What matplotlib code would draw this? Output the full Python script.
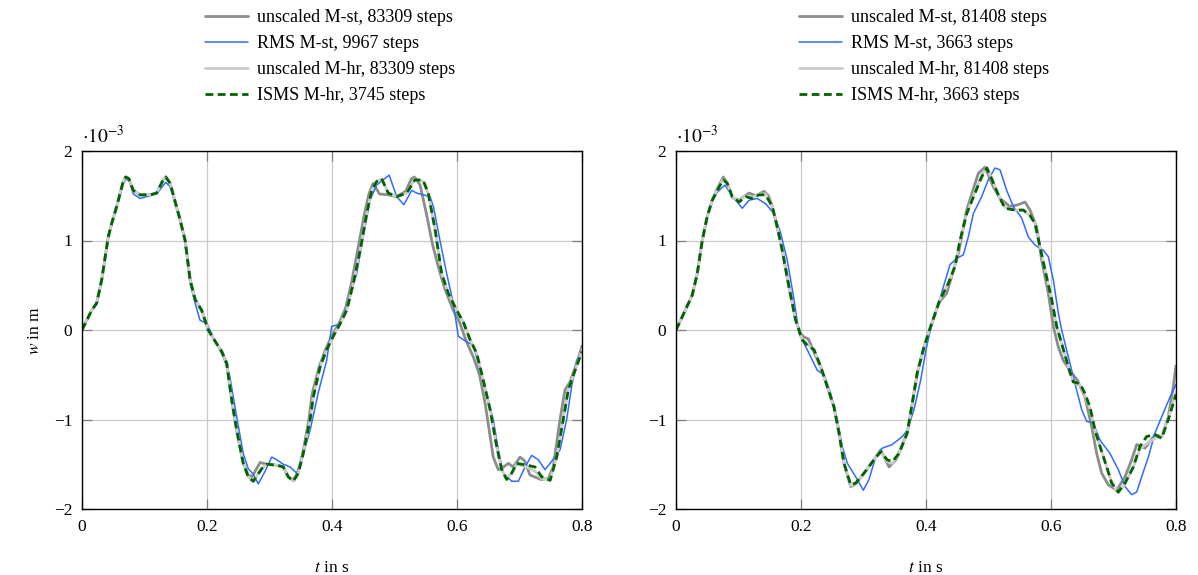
#!/usr/bin/env python3
from __future__ import annotations

import matplotlib

matplotlib.use("Agg")
import matplotlib.pyplot as plt

# values, w in units of 1e-3 m, t in s
LEFT_LABELS = [
    "unscaled M-st, 83309 steps",
    "RMS M-st, 9967 steps",
    "unscaled M-hr, 83309 steps",
    "ISMS M-hr, 3745 steps",
]
RIGHT_LABELS = [
    "unscaled M-st, 81408 steps",
    "RMS M-st, 3663 steps",
    "unscaled M-hr, 81408 steps",
    "ISMS M-hr, 3663 steps",
]

left_ust = [
    (0.0, 0.0), (0.0155, 0.22), (0.0235, 0.30), (0.0315, 0.56), (0.042, 1.04), (0.0475, 1.19),
    (0.0555, 1.38), (0.066, 1.66), (0.070, 1.71), (0.075, 1.69), (0.082, 1.56), (0.093, 1.51),
    (0.109, 1.51), (0.1195, 1.53), (0.130, 1.68), (0.134, 1.71), (0.141, 1.64), (0.157, 1.23),
    (0.165, 1.0), (0.173, 0.56), (0.181, 0.34), (0.1915, 0.22), (0.202, 0.0), (0.2125, -0.12),
    (0.2235, -0.24), (0.2315, -0.37), (0.2395, -0.78), (0.2475, -1.12), (0.258, -1.49), (0.266, -1.62),
    (0.272, -1.64), (0.285, -1.48), (0.2955, -1.50), (0.3115, -1.51), (0.322, -1.53), (0.330, -1.64),
    (0.338, -1.68), (0.346, -1.58), (0.354, -1.35), (0.363, -1.0), (0.368, -0.72), (0.379, -0.42),
    (0.3895, -0.22), (0.400, -0.06), (0.411, 0.07), (0.4215, 0.24), (0.431, 0.52), (0.441, 0.89),
    (0.452, 1.30), (0.459, 1.52), (0.466, 1.64), (0.476, 1.52), (0.490, 1.51), (0.503, 1.49),
    (0.518, 1.55), (0.527, 1.69), (0.532, 1.71), (0.541, 1.62), (0.551, 1.30), (0.561, 0.95),
    (0.570, 0.71), (0.580, 0.47), (0.594, 0.22), (0.604, 0.09), (0.614, -0.11), (0.626, -0.30),
    (0.636, -0.50), (0.645, -0.82), (0.658, -1.42), (0.666, -1.56), (0.671, -1.55), (0.682, -1.49),
    (0.690, -1.53), (0.7008, -1.42), (0.708, -1.46), (0.7168, -1.62), (0.734, -1.67), (0.746, -1.66),
    (0.754, -1.53), (0.7648, -1.0), (0.7728, -0.67), (0.7808, -0.58), (0.7915, -0.37), (0.80, -0.18),
]
left_rms = [
    (0.0, 0.0), (0.0155, 0.22), (0.0235, 0.30), (0.0315, 0.56), (0.042, 1.04), (0.0475, 1.19),
    (0.0555, 1.38), (0.066, 1.64), (0.071, 1.69), (0.076, 1.66), (0.082, 1.52), (0.093, 1.47),
    (0.109, 1.50), (0.1195, 1.52), (0.134, 1.65), (0.141, 1.60), (0.157, 1.23), (0.165, 0.98),
    (0.173, 0.52), (0.181, 0.30), (0.1888, 0.11), (0.200, 0.07), (0.210, -0.08), (0.226, -0.30),
    (0.236, -0.50), (0.2475, -0.97), (0.258, -1.38), (0.266, -1.55), (0.274, -1.61), (0.282, -1.72),
    (0.2928, -1.58), (0.3035, -1.42), (0.3115, -1.45), (0.322, -1.50), (0.3328, -1.53), (0.3435, -1.60),
    (0.3515, -1.45), (0.365, -1.12), (0.378, -0.70), (0.3915, -0.34), (0.3995, 0.04), (0.410, 0.06),
    (0.418, 0.15), (0.4288, 0.37), (0.4395, 0.63), (0.450, 1.04), (0.4608, 1.45), (0.4715, 1.62),
    (0.482, 1.68), (0.4915, 1.73), (0.5035, 1.49), (0.515, 1.40), (0.5275, 1.56), (0.5355, 1.53),
    (0.5568, 1.49), (0.5622, 1.38), (0.5728, 1.0), (0.5835, 0.63), (0.594, 0.30), (0.602, -0.07),
    (0.6128, -0.12), (0.626, -0.17), (0.637, -0.45), (0.6475, -0.71), (0.658, -1.0), (0.6662, -1.34),
    (0.674, -1.60), (0.6875, -1.69), (0.6982, -1.69), (0.7088, -1.53), (0.7195, -1.40), (0.730, -1.45),
    (0.7408, -1.56), (0.749, -1.49), (0.7648, -1.34), (0.7755, -1.0), (0.7835, -0.63), (0.7915, -0.34),
    (0.80, -0.24),
]
left_uhr = [
    (0.0, 0.0), (0.0155, 0.22), (0.0235, 0.30), (0.0315, 0.56), (0.042, 1.04), (0.0475, 1.19),
    (0.0555, 1.38), (0.066, 1.66), (0.070, 1.71), (0.075, 1.69), (0.082, 1.56), (0.093, 1.51),
    (0.109, 1.51), (0.1195, 1.53), (0.130, 1.68), (0.134, 1.71), (0.141, 1.64), (0.157, 1.23),
    (0.165, 1.0), (0.173, 0.56), (0.181, 0.34), (0.1915, 0.22), (0.202, 0.0), (0.2125, -0.12),
    (0.2235, -0.24), (0.2315, -0.37), (0.2395, -0.78), (0.2475, -1.12), (0.258, -1.49), (0.266, -1.64),
    (0.274, -1.69), (0.2875, -1.55), (0.2955, -1.50), (0.3115, -1.51), (0.322, -1.53), (0.330, -1.64),
    (0.338, -1.69), (0.346, -1.60), (0.354, -1.38), (0.365, -1.0), (0.370, -0.75), (0.381, -0.41),
    (0.3915, -0.22), (0.402, -0.07), (0.413, 0.07), (0.4235, 0.22), (0.434, 0.52), (0.445, 0.89),
    (0.4555, 1.30), (0.4635, 1.56), (0.4715, 1.66), (0.4795, 1.69), (0.490, 1.53), (0.5035, 1.49),
    (0.5195, 1.53), (0.533, 1.69), (0.546, 1.66), (0.554, 1.52), (0.565, 1.12), (0.5755, 0.63),
    (0.586, 0.41), (0.5995, 0.22), (0.610, 0.09), (0.621, -0.11), (0.6315, -0.26), (0.642, -0.56),
    (0.653, -0.89), (0.6635, -1.30), (0.6715, -1.56), (0.6795, -1.66), (0.6875, -1.60), (0.6955, -1.50),
    (0.7115, -1.53), (0.7248, -1.58), (0.7355, -1.66), (0.749, -1.67), (0.7595, -1.42), (0.770, -1.0),
    (0.778, -0.67), (0.789, -0.45), (0.80, -0.22),
]
left_isms = [
    (0.0, 0.0), (0.0155, 0.22), (0.0235, 0.30), (0.0315, 0.56), (0.042, 1.04), (0.0475, 1.19),
    (0.0555, 1.38), (0.066, 1.66), (0.070, 1.71), (0.075, 1.69), (0.082, 1.56), (0.093, 1.51),
    (0.109, 1.51), (0.1195, 1.53), (0.130, 1.68), (0.134, 1.71), (0.141, 1.64), (0.157, 1.23),
    (0.165, 1.0), (0.173, 0.56), (0.181, 0.34), (0.1915, 0.22), (0.202, 0.0), (0.2125, -0.12),
    (0.2235, -0.24), (0.2315, -0.37), (0.2395, -0.78), (0.2475, -1.12), (0.258, -1.49), (0.266, -1.64),
    (0.274, -1.69), (0.2875, -1.55), (0.2955, -1.50), (0.3115, -1.51), (0.322, -1.53), (0.330, -1.64),
    (0.338, -1.69), (0.346, -1.60), (0.354, -1.38), (0.365, -1.0), (0.370, -0.75), (0.381, -0.41),
    (0.3915, -0.22), (0.402, -0.07), (0.413, 0.07), (0.4235, 0.22), (0.434, 0.52), (0.445, 0.89),
    (0.4555, 1.30), (0.4635, 1.56), (0.4715, 1.66), (0.4795, 1.69), (0.490, 1.53), (0.5035, 1.49),
    (0.5195, 1.53), (0.533, 1.68), (0.546, 1.67), (0.554, 1.53), (0.565, 1.12), (0.5755, 0.63),
    (0.586, 0.41), (0.5995, 0.22), (0.610, 0.09), (0.621, -0.11), (0.6315, -0.26), (0.642, -0.56),
    (0.653, -0.89), (0.6635, -1.30), (0.6715, -1.56), (0.6795, -1.67), (0.6875, -1.60), (0.6955, -1.49),
    (0.7115, -1.51), (0.7248, -1.53), (0.7355, -1.64), (0.749, -1.68), (0.7595, -1.42), (0.770, -1.0),
    (0.778, -0.67), (0.789, -0.45), (0.80, -0.24),
]

right_ust = [
    (0.0, 0.0), (0.0128, 0.19), (0.026, 0.39), (0.034, 0.63), (0.042, 1.0), (0.050, 1.27),
    (0.058, 1.45), (0.066, 1.58), (0.0757, 1.71), (0.082, 1.64), (0.090, 1.48), (0.1008, 1.45),
    (0.1168, 1.53), (0.128, 1.50), (0.1408, 1.55), (0.148, 1.50), (0.154, 1.38), (0.162, 1.15),
    (0.170, 0.89), (0.1808, 0.48), (0.1915, 0.11), (0.199, -0.04), (0.205, -0.08), (0.212, -0.10),
    (0.2208, -0.25), (0.2315, -0.41), (0.242, -0.63), (0.2528, -0.86), (0.2608, -1.15), (0.2688, -1.49),
    (0.2795, -1.75), (0.2875, -1.72), (0.3008, -1.60), (0.3168, -1.45), (0.3275, -1.34), (0.3408, -1.53),
    (0.352, -1.45), (0.370, -1.15), (0.378, -0.82), (0.386, -0.48), (0.3968, -0.19), (0.4075, 0.04),
    (0.420, 0.30), (0.4331, 0.41), (0.442, 0.62), (0.452, 0.86), (0.465, 1.34), (0.4837, 1.75),
    (0.4944, 1.82), (0.5077, 1.60), (0.5184, 1.47), (0.5344, 1.38), (0.5477, 1.40), (0.5584, 1.43),
    (0.5664, 1.34), (0.5771, 1.15), (0.5851, 0.78), (0.5957, 0.41), (0.6037, 0.04), (0.6117, -0.19),
    (0.6197, -0.34), (0.6331, -0.48), (0.642, -0.56), (0.6544, -0.75), (0.6651, -1.08), (0.6731, -1.38),
    (0.6811, -1.60), (0.6917, -1.73), (0.7051, -1.79), (0.7184, -1.64), (0.7291, -1.45), (0.7371, -1.28),
    (0.7504, -1.32), (0.7664, -1.17), (0.7771, -1.19), (0.7877, -0.97), (0.7957, -0.63), (0.80, -0.40),
]
right_rms = [
    (0.0, 0.0), (0.0128, 0.19), (0.026, 0.39), (0.034, 0.63), (0.042, 1.0), (0.050, 1.27),
    (0.058, 1.44), (0.066, 1.54), (0.0783, 1.62), (0.090, 1.50), (0.106, 1.36), (0.117, 1.45),
    (0.130, 1.47), (0.1435, 1.41), (0.1568, 1.30), (0.1675, 1.08), (0.178, 0.78), (0.1888, 0.34),
    (0.1968, -0.04), (0.210, -0.22), (0.226, -0.45), (0.2368, -0.50), (0.2475, -0.71), (0.258, -1.0),
    (0.266, -1.30), (0.2742, -1.49), (0.2875, -1.64), (0.2997, -1.79), (0.3088, -1.67), (0.3195, -1.42),
    (0.3301, -1.32), (0.346, -1.28), (0.3621, -1.19), (0.370, -1.12), (0.3808, -0.89), (0.3915, -0.56),
    (0.400, -0.22), (0.407, 0.0), (0.417, 0.22), (0.4277, 0.48), (0.4384, 0.73), (0.4491, 0.80),
    (0.4597, 0.84), (0.4677, 1.04), (0.4757, 1.30), (0.4891, 1.49), (0.4997, 1.68), (0.5104, 1.81),
    (0.5184, 1.79), (0.5291, 1.56), (0.5397, 1.38), (0.5531, 1.25), (0.5637, 1.04), (0.5744, 0.95),
    (0.5877, 0.89), (0.5957, 0.82), (0.6037, 0.56), (0.6117, 0.19), (0.6171, 0.0), (0.6277, -0.30),
    (0.6384, -0.60), (0.6491, -0.89), (0.6571, -1.02), (0.6677, -1.04), (0.6784, -1.23), (0.6944, -1.38),
    (0.7077, -1.56), (0.7184, -1.75), (0.7291, -1.84), (0.7371, -1.81), (0.7451, -1.64), (0.7557, -1.42),
    (0.7664, -1.15), (0.7771, -0.97), (0.7904, -0.75), (0.80, -0.61),
]
right_uhr = [
    (0.0, 0.0), (0.0128, 0.19), (0.026, 0.39), (0.034, 0.63), (0.042, 1.0), (0.050, 1.27),
    (0.058, 1.45), (0.066, 1.57), (0.0757, 1.69), (0.082, 1.64), (0.090, 1.49), (0.1008, 1.44),
    (0.1115, 1.50), (0.122, 1.48), (0.1328, 1.52), (0.1435, 1.52), (0.154, 1.38), (0.162, 1.15),
    (0.170, 0.89), (0.1808, 0.48), (0.1915, 0.11), (0.202, -0.11), (0.210, -0.16), (0.2208, -0.22),
    (0.2315, -0.41), (0.242, -0.63), (0.2528, -0.86), (0.2608, -1.15), (0.2688, -1.49), (0.2795, -1.74),
    (0.2875, -1.71), (0.3008, -1.60), (0.3168, -1.45), (0.3275, -1.36), (0.338, -1.47), (0.346, -1.49),
    (0.3568, -1.38), (0.370, -1.15), (0.378, -0.82), (0.386, -0.48), (0.3968, -0.19), (0.4075, 0.04),
    (0.4224, 0.34), (0.4357, 0.52), (0.4464, 0.71), (0.4544, 1.0), (0.4651, 1.30), (0.4784, 1.55),
    (0.4891, 1.73), (0.4971, 1.82), (0.5051, 1.69), (0.5157, 1.51), (0.5264, 1.37), (0.5424, 1.34),
    (0.5557, 1.34), (0.5664, 1.28), (0.5744, 1.19), (0.5824, 0.93), (0.5904, 0.67), (0.6011, 0.34),
    (0.6091, 0.04), (0.617, -0.15), (0.624, -0.32), (0.6297, -0.46), (0.6357, -0.58), (0.6464, -0.62),
    (0.6544, -0.73), (0.6624, -0.88), (0.6704, -1.12), (0.6784, -1.30), (0.6891, -1.53), (0.6971, -1.71),
    (0.7077, -1.82), (0.7184, -1.72), (0.7317, -1.53), (0.7424, -1.33), (0.7531, -1.27), (0.7664, -1.21),
    (0.7771, -1.18), (0.7877, -0.98), (0.80, -0.70),
]
right_isms = [
    (0.0, 0.0), (0.0128, 0.19), (0.026, 0.39), (0.034, 0.63), (0.042, 1.0), (0.050, 1.27),
    (0.058, 1.45), (0.066, 1.56), (0.0757, 1.68), (0.082, 1.64), (0.090, 1.49), (0.1008, 1.43),
    (0.1115, 1.49), (0.122, 1.47), (0.1328, 1.51), (0.1435, 1.51), (0.154, 1.38), (0.162, 1.15),
    (0.170, 0.89), (0.1808, 0.48), (0.1915, 0.11), (0.202, -0.11), (0.210, -0.17), (0.2208, -0.22),
    (0.2315, -0.41), (0.242, -0.63), (0.2528, -0.86), (0.2608, -1.15), (0.2688, -1.49), (0.2795, -1.73),
    (0.2875, -1.71), (0.3008, -1.60), (0.3168, -1.45), (0.3275, -1.36), (0.338, -1.45), (0.346, -1.47),
    (0.3568, -1.38), (0.370, -1.15), (0.378, -0.82), (0.386, -0.48), (0.3968, -0.19), (0.4075, 0.04),
    (0.4224, 0.34), (0.4357, 0.52), (0.4464, 0.71), (0.4544, 1.0), (0.4651, 1.30), (0.4784, 1.53),
    (0.4891, 1.71), (0.4971, 1.81), (0.5051, 1.69), (0.5157, 1.51), (0.5264, 1.36), (0.5424, 1.34),
    (0.5557, 1.34), (0.5664, 1.28), (0.5744, 1.19), (0.5824, 0.93), (0.5904, 0.67), (0.6011, 0.34),
    (0.6091, 0.04), (0.617, -0.15), (0.624, -0.32), (0.6297, -0.46), (0.6357, -0.58), (0.6464, -0.60),
    (0.6544, -0.71), (0.6624, -0.86), (0.6704, -1.12), (0.6784, -1.30), (0.6891, -1.53), (0.6971, -1.71),
    (0.7077, -1.81), (0.7184, -1.71), (0.7317, -1.53), (0.7424, -1.30), (0.7531, -1.19), (0.7664, -1.17),
    (0.7771, -1.21), (0.7877, -1.0), (0.80, -0.72),
]

X_TICKS = [0, 0.2, 0.4, 0.6, 0.8]
Y_TICKS = [-2, -1, 0, 1, 2]

STYLES = [
    dict(color="#8c8c8c", lw=2.0, ls="-"),
    dict(color="#2f6cff", lw=1.1, ls="-"),
    dict(color="#cccccc", lw=2.0, ls="-"),
    dict(color="#006400", lw=2.0, ls=(0, (2.8, 1.6))),
]


def draw_panel(ax, series, labels, show_ylabel):
    for points, label, style in zip(series, labels, STYLES):
        t = [p[0] for p in points]
        w = [p[1] for p in points]
        ax.plot(t, w, label=label, solid_capstyle="round", solid_joinstyle="round",
                dash_joinstyle="round", **style)

    ax.set_xlim(0, 0.8)
    ax.set_ylim(-2, 2)
    ax.set_xticks(X_TICKS)
    ax.set_xticklabels(["0", "0.2", "0.4", "0.6", "0.8"])
    ax.set_yticks(Y_TICKS)
    ax.set_yticklabels(["\u22122", "\u22121", "0", "1", "2"])
    ax.grid(True, color="#c8c8c8", lw=0.9)
    ax.set_axisbelow(True)
    ax.tick_params(direction="in", length=7, width=0.9, color="#808080",
                   top=True, right=True, labelsize=12.5, pad=7)
    for spine in ax.spines.values():
        spine.set_linewidth(1.0)
        spine.set_color("black")

    ax.text(0.0, 1.01, r"$\cdot 10^{-3}$", transform=ax.transAxes,
            ha="left", va="bottom", fontsize=14)
    ax.set_xlabel(r"$t$ in s", fontsize=12.5, labelpad=18)
    if show_ylabel:
        ax.set_ylabel(r"$w$ in m", fontsize=12.5, labelpad=8)

    ax.legend(loc="lower left", bbox_to_anchor=(0.246, 1.13), frameon=False,
              fontsize=13, handlelength=2.4, handletextpad=0.5, labelspacing=0.5,
              borderpad=0, borderaxespad=0)


def main() -> int:
    plt.rcParams["font.family"] = ["Liberation Serif", "DejaVu Serif"]
    plt.rcParams["mathtext.fontset"] = "stix"

    fig = plt.figure(figsize=(11.98, 5.75), dpi=100)
    ax_left = fig.add_axes([82 / 1198, 66 / 575, 500 / 1198, 358 / 575])
    ax_right = fig.add_axes([676 / 1198, 66 / 575, 500 / 1198, 358 / 575])

    draw_panel(ax_left, [left_ust, left_rms, left_uhr, left_isms], LEFT_LABELS, True)
    draw_panel(ax_right, [right_ust, right_rms, right_uhr, right_isms], RIGHT_LABELS, False)

    fig.savefig("out.png", dpi=100)
    return 0


if __name__ == "__main__":
    raise SystemExit(main())
